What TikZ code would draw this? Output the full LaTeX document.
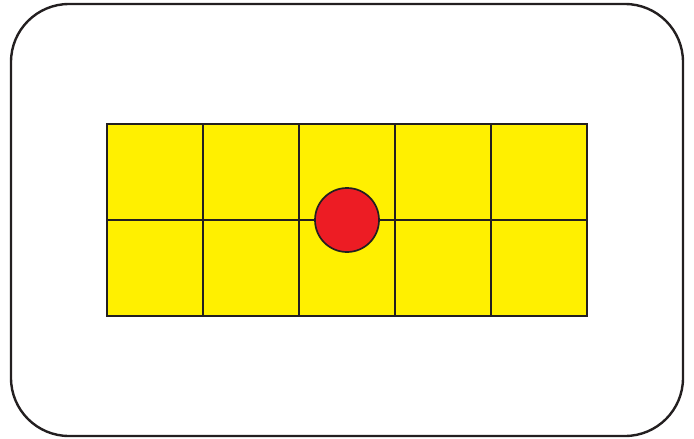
\documentclass[tikz,border=0pt]{standalone}
\usepackage{tikz}
\usetikzlibrary{positioning}
\definecolor{lineblk}{RGB}{35,31,32}
\definecolor{celly}{RGB}{255,240,0}
\definecolor{dotred}{RGB}{237,28,36}

\begin{document}
\begin{tikzpicture}[x=1pt,y=-1pt,
 frame/.style={draw=lineblk,line width=2.4pt,rounded corners=58pt},
 cell/.style={draw=lineblk,fill=celly,line width=1.7pt,minimum size=96pt,inner sep=0pt,outer sep=0pt},
 dot/.style={circle,draw=lineblk,fill=dotred,line width=1.7pt,minimum size=64pt,inner sep=0pt}]
 \useasboundingbox (0,0) rectangle (694,439);
 \draw[frame] (11,4) rectangle (683,436);
 \foreach \c in {0,...,4}
  \foreach \r in {0,1}
   \node[cell] (c\c\r) at (155+96*\c,172+96*\r) {};
 \node[dot] (ball) at (347,220) {};
\end{tikzpicture}
\end{document}
